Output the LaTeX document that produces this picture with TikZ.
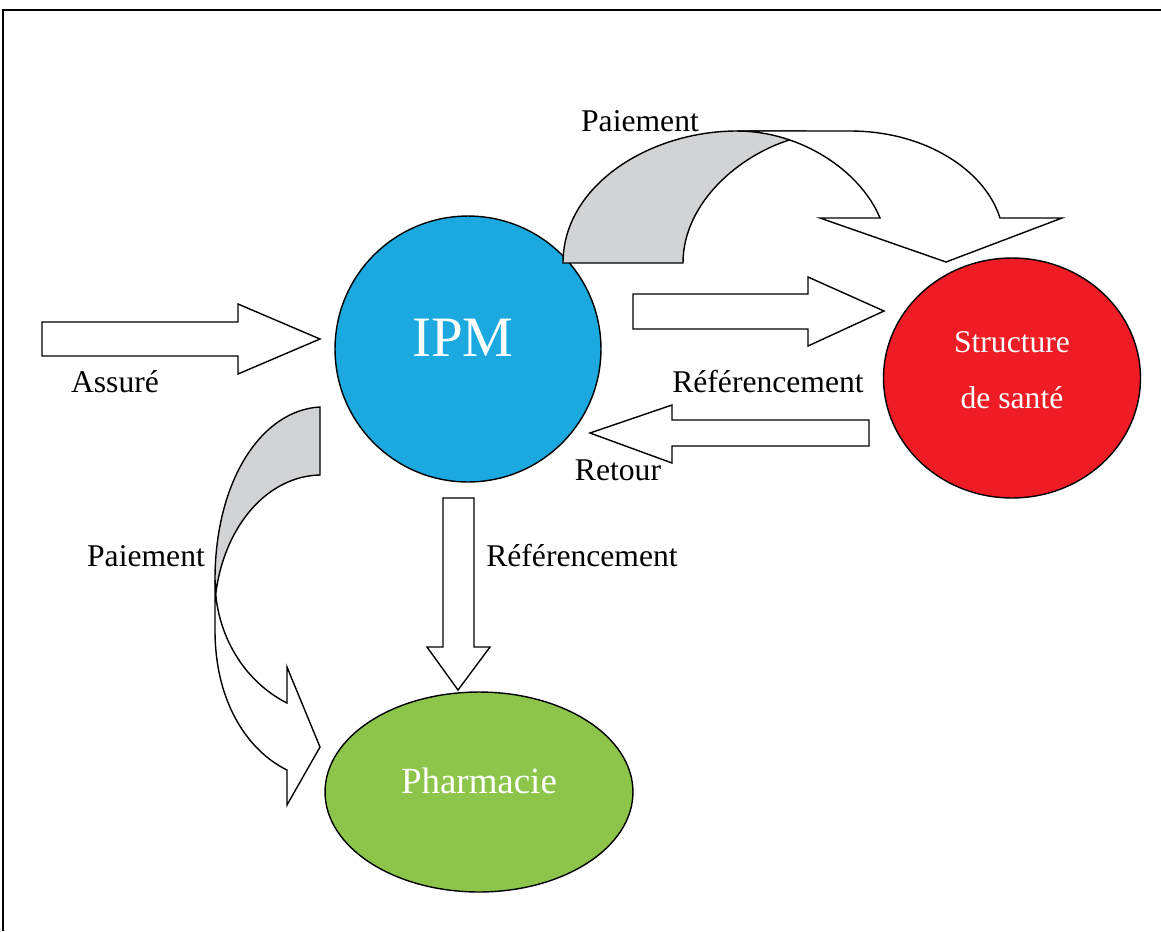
\documentclass[tikz,border=0pt]{standalone}
\usepackage{fontspec}
\setmainfont{Liberation Serif}
\usetikzlibrary{shapes.geometric}
\definecolor{ipmblue}{HTML}{1BA9E0}
\definecolor{ssred}{HTML}{EE1D25}
\definecolor{phgreen}{HTML}{8DC54B}
\definecolor{bandgray}{HTML}{D1D3D4}
\begin{document}
\begin{tikzpicture}[x=0.02cm,y=-0.02cm,
  outl/.style={draw=black,line width=0.8pt,line join=miter},
  blockarrow/.style={outl,fill=white},
  band/.style={outl,fill=bandgray},
  lbl/.style={anchor=base,inner sep=0pt,font=\fontsize{18}{20}\selectfont},
  wlbl/.style={lbl,text=white}]
\useasboundingbox (0,0) rectangle (1161,931);
\draw[line width=0.8pt] (3,931) -- (3,10) -- (1161,10);

% main nodes
\node[outl,fill=ipmblue,circle,minimum size=5.32cm,inner sep=0pt] (ipm) at (468,349) {};
\node[outl,fill=ssred,ellipse,minimum width=5.14cm,minimum height=4.8cm,inner sep=0pt] (ss) at (1012,378) {};
\node[outl,fill=phgreen,ellipse,minimum width=6.16cm,minimum height=4.0cm,inner sep=0pt] (ph) at (479,792) {};

\node[wlbl,font=\fontsize{32.5}{34}\selectfont] (ipmt) at (463,356) {IPM};
\node[wlbl] (sst1) at (1012,352) {Structure};
\node[wlbl] (sst2) at (1012,408) {de santé};
\node[wlbl,font=\fontsize{21}{23}\selectfont] (pht) at (479,793) {Pharmacie};

% straight block arrows
\draw[blockarrow] (42,322) -- (238,322) -- (238,304) -- (320,339) -- (238,374) -- (238,356) -- (42,356) -- cycle;
\draw[blockarrow] (633,294) -- (808,294) -- (808,277) -- (884,311) -- (808,346) -- (808,329) -- (633,329) -- cycle;
\draw[blockarrow] (869,420) -- (672,420) -- (672,405) -- (590,433) -- (672,463) -- (672,446) -- (869,446) -- cycle;
\draw[blockarrow] (443,498) -- (474,498) -- (474,647) -- (490,647) -- (458,690) -- (427,647) -- (443,647) -- cycle;

% top curved arrow (IPM -> Structure de sante)
\draw[band] (563,263) .. controls (563,185) and (650,131) .. (737,131) -- (805,131) -- (800,137)
  .. controls (745,150) and (683,200) .. (683,263) -- cycle;
\draw[blockarrow] (737,131) -- (850,131) .. controls (925,131) and (985,170) .. (1000,218)
  -- (1062,218) -- (946,262) -- (820,218) -- (880,218)
  .. controls (860,170) and (800,131) .. (737,131) -- cycle;

% left curved arrow (IPM -> Pharmacie)
\draw[band] (320,407) .. controls (262,410) and (215,480) .. (215,580) -- (216,592)
  .. controls (225,525) and (268,476) .. (320,475) -- cycle;
\draw[blockarrow] (215,580) -- (215,630) .. controls (215,705) and (250,752) .. (287,770)
  -- (287,805) -- (320,747) -- (287,667) -- (287,703)
  .. controls (245,682) and (215,635) .. (215,580) -- cycle;

% labels
\node[lbl] (l1) at (640,131) {Paiement};
\node[lbl] (l2) at (115,392) {Assuré};
\node[lbl] (l3) at (768,392) {Référencement};
\node[lbl] (l4) at (618,480) {Retour};
\node[lbl] (l5) at (146,566) {Paiement};
\node[lbl] (l6) at (582,566) {Référencement};
\end{tikzpicture}
\end{document}
